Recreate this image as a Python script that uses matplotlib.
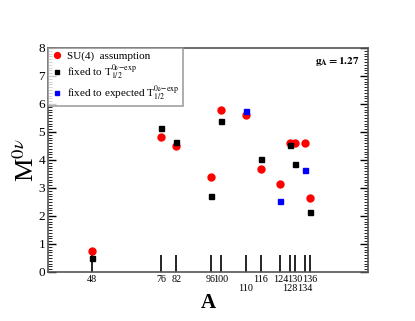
import numpy as np
import matplotlib
matplotlib.use('Agg')
import matplotlib.pyplot as plt
from matplotlib.ticker import MultipleLocator

plt.rcParams['font.family'] = ['Liberation Serif', 'DejaVu Serif']
plt.rcParams['mathtext.fontset'] = 'stix'

# SU(4) assumption
A_su4 = [48, 76, 82, 96, 100, 110, 116, 124, 128, 130, 134, 136]
M_su4 = [0.74, 4.83, 4.49, 3.38, 5.79, 5.62, 3.69, 3.13, 4.60, 4.62, 4.60, 2.65]

# fixed to T1/2 exp
A_fix = [48, 76, 82, 96, 100, 116, 128, 130, 136]
M_fix = [0.51, 5.14, 4.63, 2.70, 5.40, 4.02, 4.55, 3.87, 2.15]

# fixed to expected T1/2
A_exp = [110, 124, 134]
M_exp = [5.75, 2.54, 3.65]

xticks = [48, 76, 82, 96, 100, 110, 116, 124, 128, 130, 134, 136]
xlabels = ['48', '76', '82', '96', '100', '\n110', '116', '124', '\n128', '130', '\n134', '136']

fig = plt.figure(figsize=(4.15, 3.21), dpi=100)
ax = fig.add_axes([48/415, 1 - 272/321, 320/415, 224/321])

ax.plot(A_su4, M_su4, 'o', color='red', markersize=5, label='SU(4)  assumption')
ax.plot(A_fix, M_fix, 's', color='black', markersize=3.6, label=r'fixed to T$_{1/2}^{0\nu\mathrm{-exp}}$')
ax.plot(A_exp, M_exp, 's', color='blue', markersize=3.6, label=r'fixed to expected T$_{1/2}^{0\nu\mathrm{-exp}}$')

ax.set_xlim(30.2, 159.4)
ax.set_ylim(0, 8)
ax.set_xticks(xticks)
ax.set_xticklabels(xlabels, fontsize=7.3, linespacing=1.0)
ax.tick_params(axis='x', direction='in', length=12, width=1.2, pad=2)
ax.yaxis.set_major_locator(MultipleLocator(1))
ax.yaxis.set_minor_locator(MultipleLocator(0.1))
ax.tick_params(axis='y', which='major', direction='in', length=6, width=1, labelsize=9.5, right=True, pad=2)
ax.tick_params(axis='y', which='minor', direction='in', length=3, width=0.6, right=True)
for s in ax.spines.values():
    s.set_color('#555555')
    s.set_linewidth(1.2)

ax.set_xlabel('A', fontsize=15, fontweight='bold')
ax.xaxis.set_label_coords(0.5, -0.092)
ax.set_ylabel(r'M$^{0\nu}$', fontsize=19)
ax.yaxis.set_label_coords(-0.03, 0.5)

ax.text(0.975, 0.94, r'$\mathbf{g_A}$$\mathbf{=1.27}$', transform=ax.transAxes,
        ha='right', va='center', fontsize=8, fontweight='bold')

leg = ax.legend(loc='upper left', fontsize=8, frameon=True, fancybox=False,
                borderaxespad=0, handletextpad=0.4, labelspacing=0.12,
                handlelength=1.0, borderpad=0.3, markerscale=0.85)
leg.get_frame().set_edgecolor('#888888')
leg.get_frame().set_linewidth(1.2)

fig.savefig('out.png', dpi=100)
